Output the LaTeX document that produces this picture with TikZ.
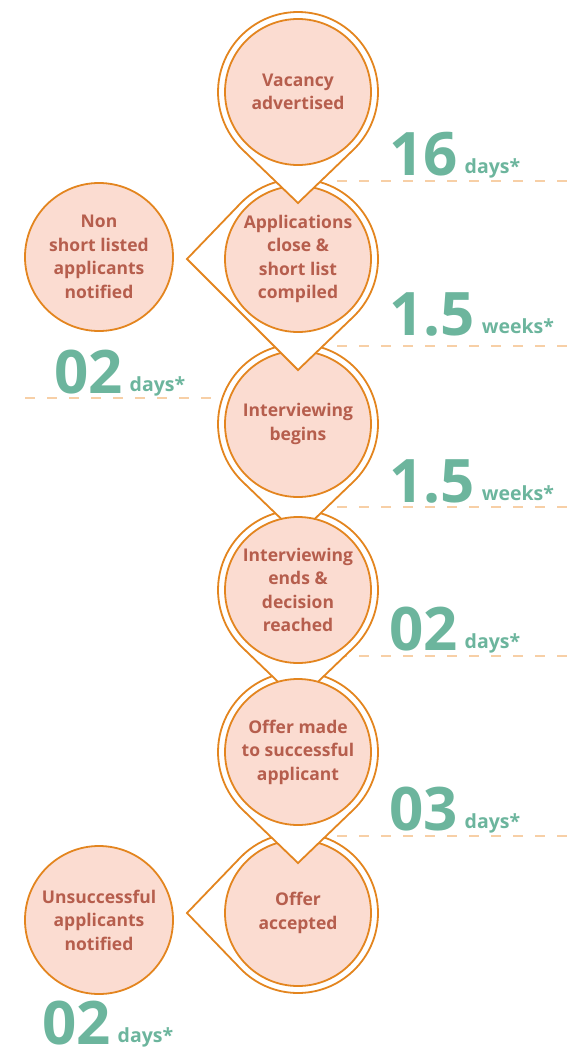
\documentclass[tikz,border=0pt]{standalone}
\usepackage{fontspec}
\setmainfont{Open Sans}
\definecolor{ringorange}{HTML}{E3851F}
\definecolor{stepfill}{HTML}{FBDCD1}
\definecolor{steptext}{HTML}{B65E4D}
\definecolor{timegreen}{HTML}{6CB59D}
\definecolor{gapdash}{HTML}{F7CFA6}
\newcommand{\dropR}{80}   % outer ring radius
\newcommand{\dropD}{111}  % centre to tip
\newcommand{\dropA}{43.9} % acos(R/D)
\newcommand{\timespan}[2]{{\fontsize{60}{60}\selectfont #1}\hspace{7pt}\raisebox{2pt}{\fontsize{19.5}{19.5}\selectfont #2}}
\begin{document}
\begin{tikzpicture}[x=1pt,y=-1pt,
  drop/.style = {draw=ringorange,line width=1.8pt,fill=white,line join=miter},
  stepnode/.style = {circle,draw=ringorange,line width=1.8pt,fill=stepfill,minimum size=146pt,inner sep=0pt,
                     align=center,text=steptext,font=\bfseries\fontsize{17.5}{23.5}\selectfont},
  sidenode/.style = {stepnode,minimum size=148pt},
  gapline/.style = {gapdash,line width=2.2pt,dash pattern=on 10pt off 12pt},
  timelabel/.style = {anchor=base west,inner sep=0pt,text=timegreen,font=\bfseries}]
\useasboundingbox (0,0) rectangle (571,1057);
% dashed time marks
\foreach \y in {181,346,507,656,836}
    \draw[gapline] (337,\y) -- (571,\y);
\draw[gapline] (25,398) -- (218,398);
% step centres
\coordinate (c1) at (298,92);
\coordinate (c2) at (298,259);
\coordinate (c3) at (298,424);
\coordinate (c4) at (298,590);
\coordinate (c5) at (298,752);
\coordinate (c6) at (298,913);
% bottom up, so every tip lies over the next ring
\draw[drop] ([shift={(180:\dropD)}]c6) -- ([shift={(180-\dropA:\dropR)}]c6)
    arc[start angle=180-\dropA, end angle=\dropA-180, radius=\dropR] -- cycle;
\node[stepnode] (accepted) at (c6) {Offer\\accepted};
\foreach \c in {c5,c4,c3}
    \draw[drop] ([shift={(90:\dropD)}]\c) -- ([shift={(90-\dropA:\dropR)}]\c)
        arc[start angle=90-\dropA, end angle=\dropA-270, radius=\dropR] -- cycle;
\node[stepnode] (offer) at (c5) {Offer made\\to successful\\applicant};
\node[stepnode] (ends) at (c4) {Interviewing\\ends \&\\decision\\reached};
\node[stepnode] (begins) at (c3) {Interviewing\\begins};
\draw[drop] ([shift={(90:\dropD)}]c2) -- ([shift={(90-\dropA:\dropR)}]c2)
    arc[start angle=90-\dropA, end angle=\dropA-180, radius=\dropR] -- ([shift={(180:\dropD)}]c2) -- cycle;
\node[stepnode] (close) at (c2) {Applications\\close \&\\short list\\compiled};
\draw[drop] ([shift={(90:\dropD)}]c1) -- ([shift={(90-\dropA:\dropR)}]c1)
    arc[start angle=90-\dropA, end angle=\dropA-270, radius=\dropR] -- cycle;
\node[stepnode] (vacancy) at (c1) {Vacancy\\advertised};
% side notices
\node[sidenode] (shortlist) at (99,257) {Non\\short listed\\applicants\\notified};
\node[sidenode] (unsuccessful) at (99,920) {Unsuccessful\\applicants\\notified};
% time spans
\node[timelabel] (t1) at (389,175) {\timespan{16}{days*}};
\node[timelabel] (t2) at (389,335) {\timespan{1.5}{weeks*}};
\node[timelabel] (t3) at (54,393) {\timespan{02}{days*}};
\node[timelabel] (t4) at (389,502) {\timespan{1.5}{weeks*}};
\node[timelabel] (t5) at (389,650) {\timespan{02}{days*}};
\node[timelabel] (t6) at (389,830) {\timespan{03}{days*}};
\node[timelabel,text depth=0pt] (t7) at (42,1044) {\timespan{02}{days*}};
\end{tikzpicture}
\end{document}
